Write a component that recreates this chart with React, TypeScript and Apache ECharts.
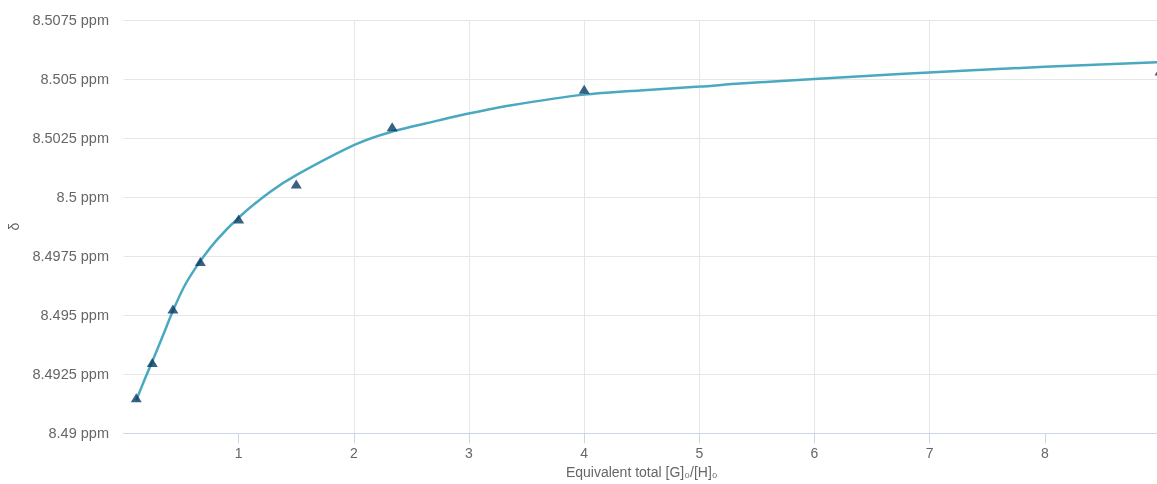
import React, { useEffect, useRef } from "react";
import * as echarts from "echarts";

// Measured points: equivalent total [G]0/[H]0 vs chemical shift (ppm)
const pointX = [0.111, 0.25, 0.429, 0.667, 1, 1.5, 2.333, 4, 9];
const pointY = [8.4915, 8.493, 8.49526, 8.49727, 8.49907, 8.50056, 8.50298, 8.50457, 8.50534];

// Fitted curve
const fitX = [0.111, 0.187, 0.259, 0.346, 0.432, 0.534, 0.664, 0.809, 1.011, 1.272, 1.504, 2.01, 2.314, 2.748, 3.008, 3.355, 4.0, 4.484, 5.005, 5.352, 6.0, 6.74, 8.0, 9.0];
const fitY = [8.4914, 8.49232, 8.49315, 8.49418, 8.49522, 8.49628, 8.49727, 8.49818, 8.49918, 8.50022, 8.50094, 8.50222, 8.50275, 8.50326, 8.50355, 8.50388, 8.50434, 8.50452, 8.50468, 8.50481, 8.505, 8.50521, 8.50552, 8.50572];

const xTicks = [1, 2, 3, 4, 5, 6, 7, 8];

export default function App() {
  const ref = useRef<HTMLDivElement>(null);
  useEffect(() => {
    if (!ref.current) return;
    const chart = echarts.init(ref.current, undefined, { renderer: "svg" });
    const font = "'Liberation Sans', Arial, sans-serif";
    chart.setOption({
      animation: false,
      textStyle: { fontFamily: font },
      grid: { left: 123.5, right: -3, top: 20, bottom: 50.7, containLabel: false, outerBoundsMode: "none" },
      xAxis: {
        type: "value",
        min: 0,
        max: 9,
        interval: 1,
        name: "Equivalent total [G]₀/[H]₀",
        nameLocation: "middle",
        nameGap: 31,
        nameTextStyle: { color: "#666666", fontSize: 14, fontFamily: font },
        axisLine: { show: true, lineStyle: { color: "#ccd6eb", width: 1 } },
        axisTick: { show: true, length: 10, lineStyle: { color: "#ccd6eb" }, customValues: xTicks },
        axisLabel: {
          color: "#666666",
          fontSize: 14,
          fontFamily: font,
          margin: 13,
          customValues: xTicks,
          formatter: (v: number) => (v >= 1 && v <= 8 ? String(v) : ""),
        },
        splitLine: { show: true, showMinLine: false, showMaxLine: false, lineStyle: { color: "#e6e6e6", width: 1 } },
      },
      yAxis: {
        type: "value",
        min: 8.49,
        max: 8.5075,
        interval: 0.0025,
        name: "δ",
        nameLocation: "middle",
        nameGap: 103,
        nameRotate: 90,
        nameTextStyle: { color: "#666666", fontSize: 14, fontFamily: font },
        axisLine: { show: false },
        axisTick: { show: false },
        axisLabel: {
          color: "#666666",
          fontSize: 14.5,
          fontFamily: font,
          margin: 14.5,
          formatter: (v: number) => `${parseFloat(v.toFixed(4))} ppm`,
        },
        splitLine: { show: true, lineStyle: { color: "#e6e6e6", width: 1 } },
      },
      series: [
        {
          type: "line",
          data: fitX.map((x, i) => [x, fitY[i]]),
          smooth: 0.3,
          showSymbol: false,
          symbol: "none",
          lineStyle: { color: "#4aa9c0", width: 2.5 },
          z: 2,
        },
        {
          type: "scatter",
          data: pointX.map((x, i) => [x, pointY[i]]),
          symbol: "triangle",
          symbolSize: [11, 9],
          itemStyle: { color: "#083a60" },
          z: 3,
        },
      ],
    });
    return () => chart.dispose();
  }, []);
  return <div ref={ref} style={{ position: "fixed", left: 0, top: 0, width: 1157, height: 484 }} />;
}
